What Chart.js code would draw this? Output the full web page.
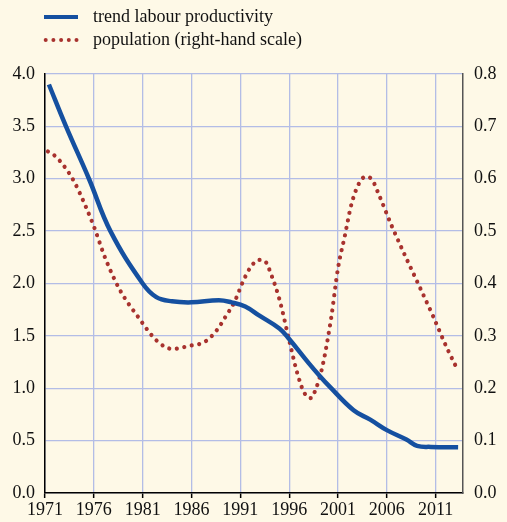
<!DOCTYPE html>
<html><head><meta charset="utf-8">
<script src="https://cdn.jsdelivr.net/npm/chart.js@4/dist/chart.umd.min.js"></script>
<style>
html,body{margin:0;padding:0;background:#fef9e7;}
#wrap{position:relative;width:507px;height:522px;}
canvas{display:block;}
</style></head>
<body><div id="wrap"><canvas id="c" width="507" height="522"></canvas></div>
<script>
const xTickYears = [1971, 1976, 1981, 1986, 1991, 1996, 2001, 2006, 2011];
const leftTicks = [0, 0.5, 1, 1.5, 2, 2.5, 3, 3.5, 4];
const rightTicks = [0, 0.1, 0.2, 0.3, 0.4, 0.5, 0.6, 0.7, 0.8];
const seriesNames = ["trend labour productivity", "population (right-hand scale)"];

const prodYears  = [1971.4, 1973.15, 1975.5, 1977.7, 1981, 1982.4, 1984, 1986, 1988.8, 1990.1, 1991.5, 1993, 1995, 1996, 1998, 1999.2, 2000, 2002.6, 2004.3, 2006, 2008, 2009.1, 2010.5, 2013.3];
const prodValues = [3.90, 3.50, 3.00, 2.50, 2.00, 1.87, 1.83, 1.82, 1.84, 1.82, 1.78, 1.69, 1.57, 1.47, 1.24, 1.11, 1.03, 0.79, 0.70, 0.60, 0.51, 0.45, 0.44, 0.436];

const popYears  = [1971.3, 1972, 1973, 1974, 1975.1, 1976, 1977.2, 1978.6, 1980.5, 1982.6, 1984.1, 1985.75, 1987.4, 1988.6, 1989.5, 1990.4, 1991.4, 1992.2, 1992.9, 1993.5, 1994.2, 1995, 1996, 1996.8, 1997.5, 1998.2, 1998.7, 1999.4, 2000.3, 2001, 2001.7, 2002.4, 2003.3, 2003.9, 2004.5, 2005.2, 2006.5, 2007.9, 2009.3, 2010.7, 2012.1, 2013.2];
const popValues = [0.652, 0.644, 0.623, 0.594, 0.550, 0.509, 0.447, 0.390, 0.337, 0.288, 0.275, 0.281, 0.289, 0.311, 0.337, 0.365, 0.409, 0.435, 0.445, 0.443, 0.415, 0.370, 0.292, 0.231, 0.193, 0.181, 0.197, 0.241, 0.334, 0.429, 0.491, 0.553, 0.596, 0.604, 0.598, 0.569, 0.510, 0.452, 0.396, 0.339, 0.279, 0.237];

const BLUE = '#1550a0';
const RED = '#a8322e';
const GRID = '#b3bde6';
const FONT = '"Liberation Serif", "Times New Roman", serif';

const legendPlugin = {
  id: 'customLegend',
  afterDraw(chart) {
    const ctx = chart.ctx;
    ctx.save();
    ctx.strokeStyle = BLUE; ctx.lineWidth = 4; ctx.lineCap = 'butt';
    ctx.beginPath(); ctx.moveTo(44, 17); ctx.lineTo(78, 17); ctx.stroke();
    ctx.fillStyle = RED;
    for (let i = 0; i < 5; i++) { ctx.beginPath(); ctx.arc(45.7 + i * 7.7, 40, 2, 0, Math.PI * 2); ctx.fill(); }
    ctx.fillStyle = '#111';
    ctx.font = '18px ' + FONT;
    ctx.textBaseline = 'middle'; ctx.textAlign = 'left';
    ctx.fillText(seriesNames[0], 93, 17);
    ctx.fillText(seriesNames[1], 93, 40);
    ctx.restore();
  }
};

new Chart(document.getElementById('c'), {
  type: 'line',
  data: {
    datasets: [
      {
        label: seriesNames[0],
        data: prodYears.map((x, i) => ({ x, y: prodValues[i] })),
        borderColor: BLUE, borderWidth: 4.5, pointRadius: 0,
        tension: 0.4, yAxisID: 'y', fill: false
      },
      {
        label: seriesNames[1],
        data: popYears.map((x, i) => ({ x, y: popValues[i] })),
        borderColor: RED, borderWidth: 4.2, pointRadius: 0,
        borderDash: [0.01, 7.6], borderCapStyle: 'round',
        cubicInterpolationMode: 'monotone', yAxisID: 'y1', fill: false
      }
    ]
  },
  options: {
    responsive: false, animation: false, devicePixelRatio: 1,
    layout: { padding: { top: 74, left: 0, right: 0, bottom: 0 } },
    plugins: { legend: { display: false }, tooltip: { enabled: false } },
    scales: {
      x: {
        type: 'linear', min: 1971, max: 2013.8,
        afterFit(s) { s.height = 29; },
        afterBuildTicks(s) { s.ticks = xTickYears.map(v => ({ value: v })); },
        grid: { color: GRID, lineWidth: 1.3, tickColor: '#000', tickLength: 5, tickWidth: 1.5 },
        border: { color: '#000', width: 1.5 },
        ticks: { color: '#111', font: { family: FONT, size: 18 }, padding: 1, maxRotation: 0, autoSkip: false, callback: v => String(v) }
      },
      y: {
        position: 'left', min: 0, max: 4,
        afterFit(s) { s.width = 45; },
        afterBuildTicks(s) { s.ticks = leftTicks.map(v => ({ value: v })); },
        grid: { color: GRID, lineWidth: 1.3, drawTicks: false },
        border: { color: '#000', width: 1.5 },
        ticks: { color: '#111', font: { family: FONT, size: 18 }, padding: 10, callback: v => Number(v).toFixed(1) }
      },
      y1: {
        position: 'right', min: 0, max: 0.8,
        afterFit(s) { s.width = 44; },
        afterBuildTicks(s) { s.ticks = rightTicks.map(v => ({ value: v })); },
        grid: { display: false, drawTicks: false },
        border: { color: '#555', width: 1.5 },
        ticks: { color: '#111', font: { family: FONT, size: 18 }, padding: 11, callback: v => Number(v).toFixed(1) }
      }
    }
  },
  plugins: [legendPlugin]
});
</script></body></html>
